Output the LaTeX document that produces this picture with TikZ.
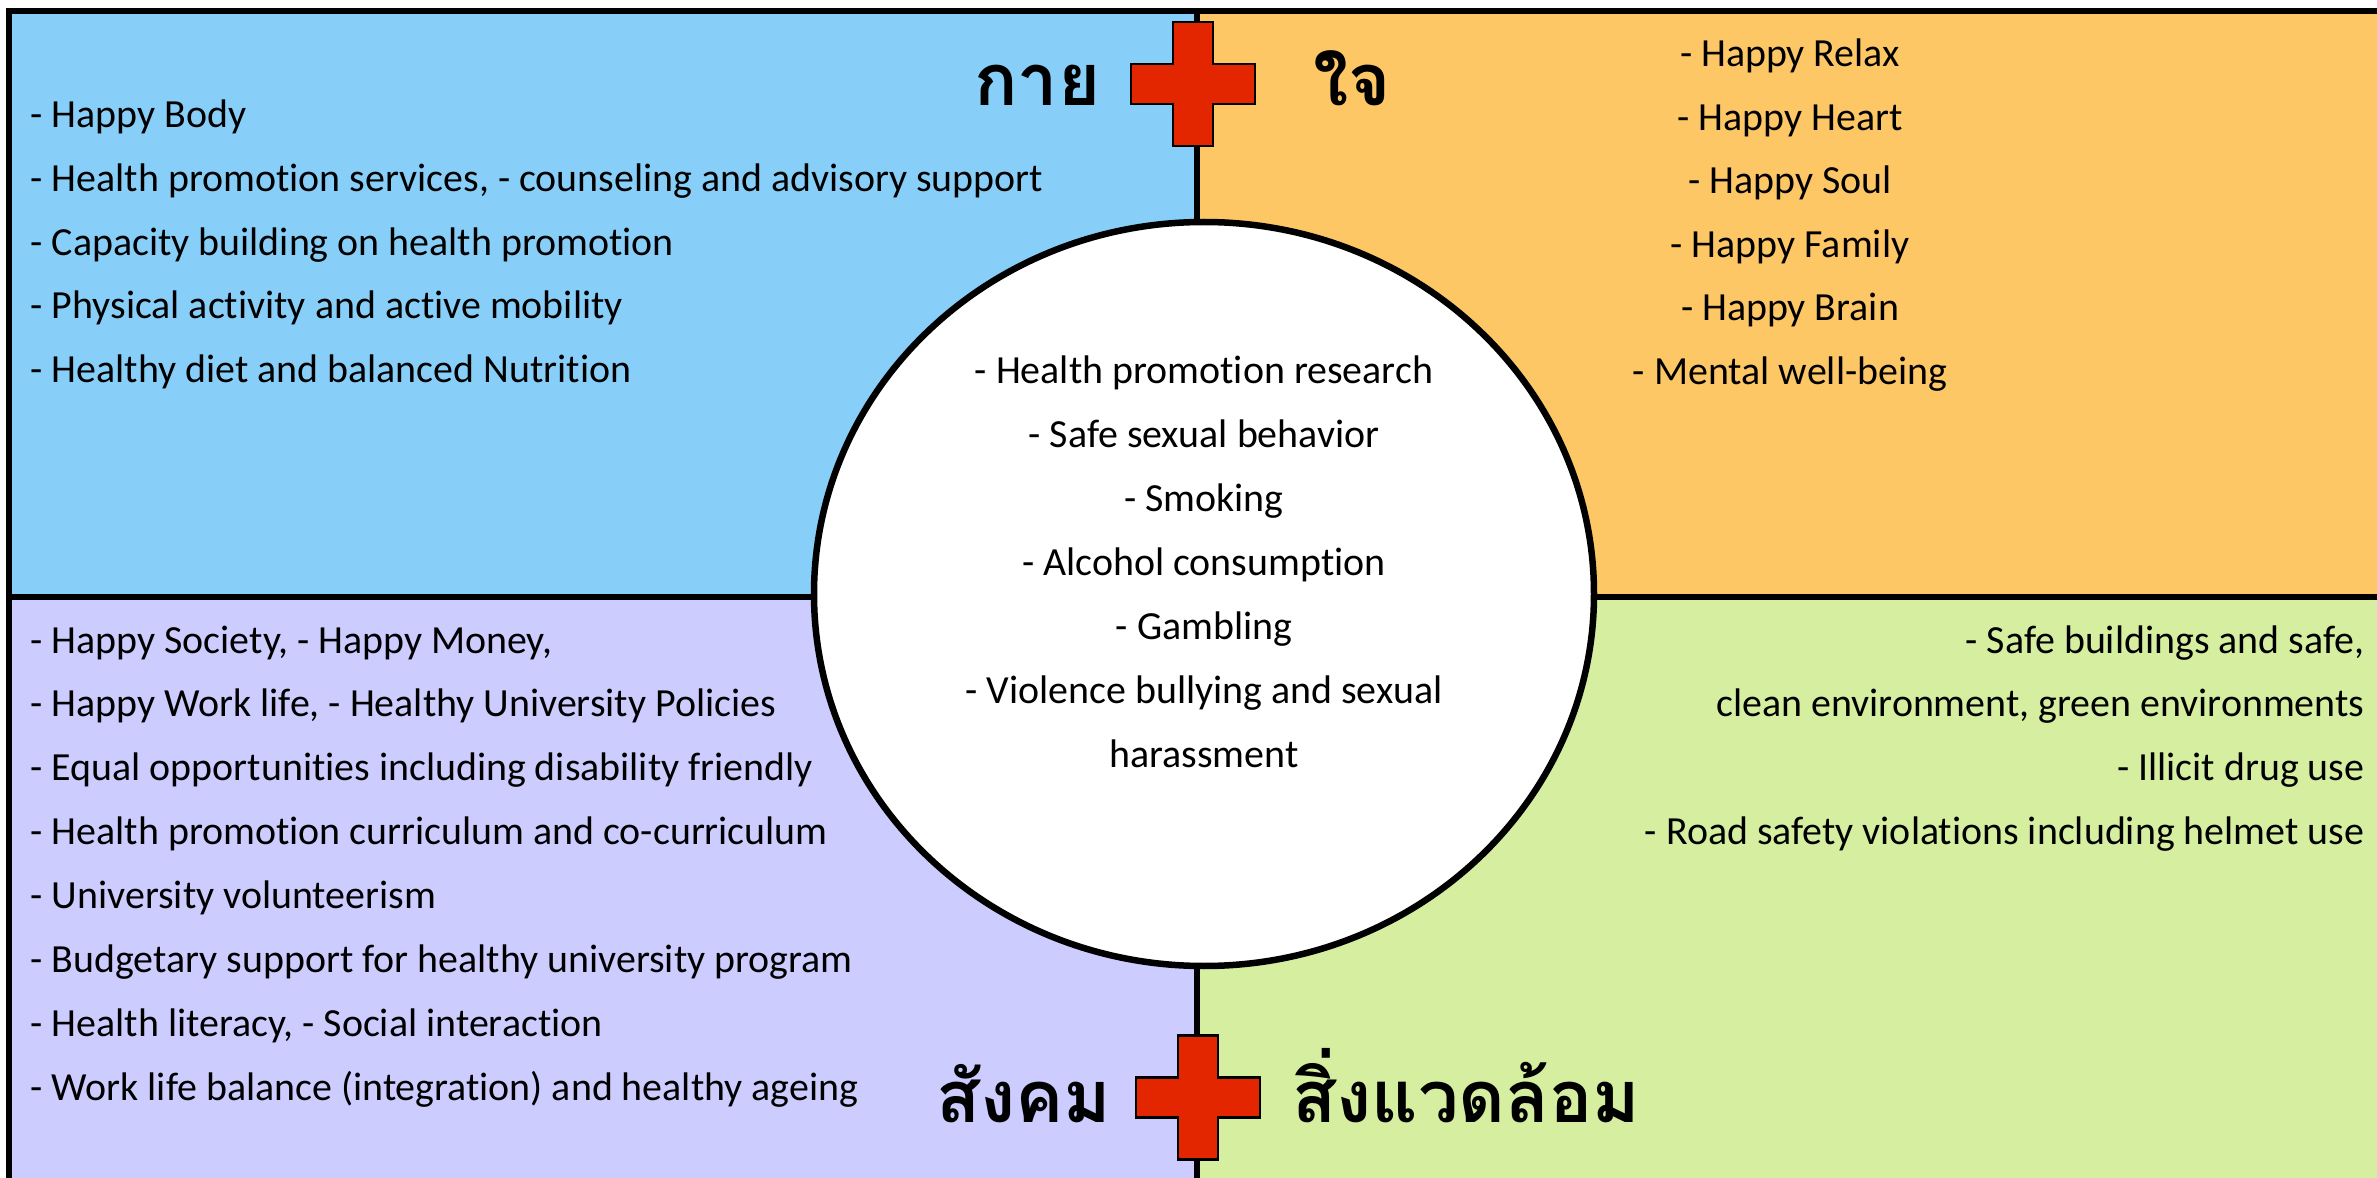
\documentclass[tikz,border=0pt]{standalone}
\usepackage{fontspec}
\setmainfont{Carlito}[Ligatures=NoCommon]
\newfontfamily\thaifont[Script=Thai]{Loma}
\usetikzlibrary{calc,shapes.geometric}
\definecolor{bodyblue}{RGB}{135,207,248}
\definecolor{mindorange}{RGB}{254,199,102}
\definecolor{socialviolet}{RGB}{204,204,255}
\definecolor{envgreen}{RGB}{214,238,160}
\definecolor{crossred}{RGB}{228,38,0}
\tikzset{
  frame/.style={line width=0.65mm},
  item/.style={font=\fontsize{11.35}{14}\selectfont, inner sep=0},
  thai/.style={font=\thaifont\bfseries\fontsize{20.5}{24}\selectfont, inner sep=0},
  hub/.style={ellipse, draw, fill=white, line width=0.65mm, inner sep=0,
    minimum width=7.8cm, minimum height=7.44cm},
  crossbox/.style={fill=crossred, draw=black, line width=0.8pt}
}
\newcommand\redcross[1]{%
 \filldraw[crossbox] ($(#1)+(-0.2,0.62)$) -- ++(0.4,0) -- ++(0,-0.42) -- ++(0.42,0)
   -- ++(0,-0.4) -- ++(-0.42,0) -- ++(0,-0.42) -- ++(-0.4,0) -- ++(0,0.42)
   -- ++(-0.42,0) -- ++(0,0.4) -- ++(0.42,0) -- cycle;}
\begin{document}
\begin{tikzpicture}
\useasboundingbox (0,0) rectangle (23.77,-11.78);
\clip (0,0) rectangle (23.77,-11.78);
% four quarters
\fill[bodyblue] (0.09,-0.11) rectangle (11.97,-5.97);
\fill[mindorange] (11.97,-0.12) rectangle (24,-5.97);
\fill[socialviolet] (0.09,-5.97) rectangle (11.97,-12);
\fill[envgreen] (11.97,-5.97) rectangle (24,-12);
\draw[frame] (0.09,-12) |- (24,-0.11);
\draw[frame] (11.97,-0.11) -- (11.97,-12);
\draw[frame] (0.09,-5.97) -- (24,-5.97);
% body
\foreach\t [count=\i] in {- Happy Body,
  {- Health promotion services, - counseling and advisory support},
  - Capacity building on health promotion,
  - Physical activity and active mobility,
  - Healthy diet and balanced Nutrition}
 \node[item, anchor=base west] (body\i) at (0.30,{-1.275-0.638*(\i-1)}) {\t};
% mind
\foreach\t [count=\i] in {- Happy Relax, - Happy Heart, - Happy Soul,
  - Happy Family, - Happy Brain, - Mental well-being}
 \node[item, anchor=base] (mind\i) at (17.90,{-0.665-0.636*(\i-1)}) {\t};
% society
\foreach\t [count=\i] in {{- Happy Society, - Happy Money,},
  {- Happy Work life, - Healthy University Policies},
  - Equal opportunities including disability friendly,
  - Health promotion curriculum and co-curriculum,
  - University volunteerism,
  - Budgetary support for healthy university program,
  {- Health literacy, - Social interaction},
  - Work life balance (integration) and healthy ageing}
 \node[item, anchor=base west] (soc\i) at (0.30,{-6.53-0.639*(\i-1)}) {\t};
% environment
\foreach\t [count=\i] in {{- Safe buildings and safe,},
  {clean environment, green environments},
  - Illicit drug use,
  - Road safety violations including helmet use}
 \node[item, anchor=base east] (env\i) at (23.65,{-6.53-0.639*(\i-1)}) {\t};
% centre
\node[hub] (hub) at (12.04,-5.94) {};
\foreach\t [count=\i] in {- Health promotion research, - Safe sexual behavior,
  - Smoking, - Alcohol consumption, - Gambling,
  - Violence bullying and sexual, harassment}
 \node[item, anchor=base] (risk\i) at (12.04,{-3.835-0.64*(\i-1)}) {\t};
% crosses and titles
\coordinate (topc) at (11.93,-0.84);
\coordinate (botc) at (11.98,-10.975);
\redcross{topc}
\redcross{botc}
\node[thai, anchor=base east] (kai) at ($(topc)+(-0.92,-0.22)$) {กาย};
\node[thai, anchor=base west] (jai) at ($(topc)+(1.20,-0.22)$) {ใจ};
\node[thai, anchor=base east] (sangkhom) at ($(botc)+(-0.86,-0.25)$) {สังคม};
\node[thai, anchor=base west] (sing) at ($(botc)+(0.94,-0.25)$) {สิ่งแวดล้อม};
\end{tikzpicture}
\end{document}
